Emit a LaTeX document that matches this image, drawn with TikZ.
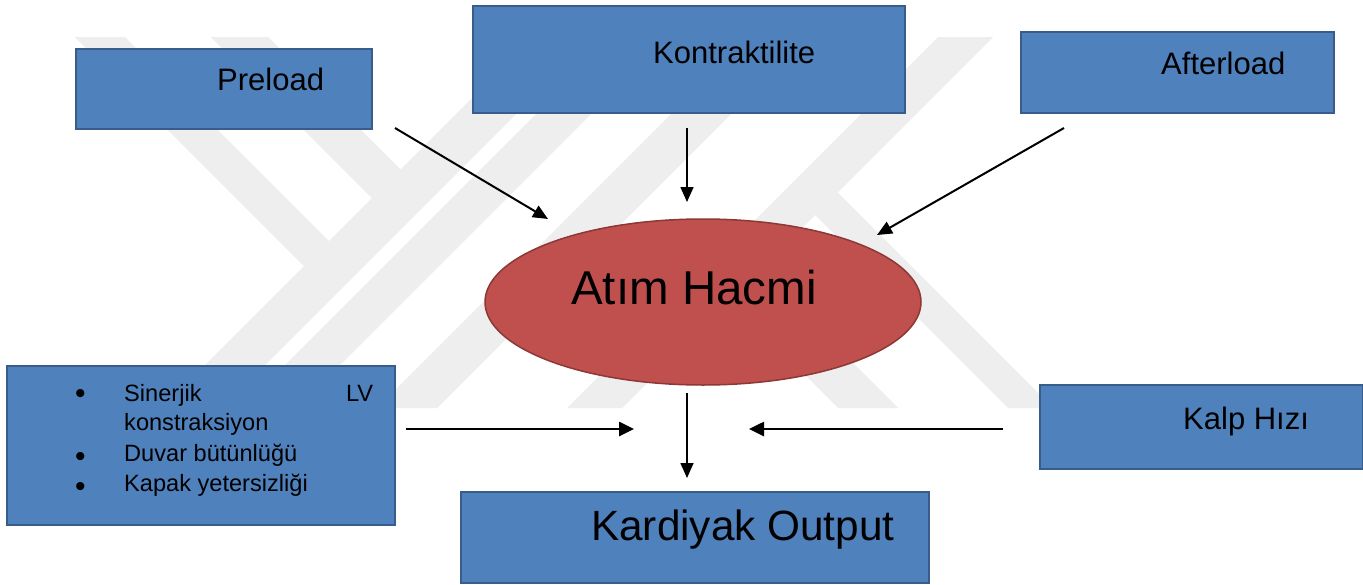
\documentclass[tikz,border=0pt]{standalone}
\usepackage{fontspec}
\setmainfont{Liberation Sans}
\usetikzlibrary{arrows.meta,shapes.geometric}
\definecolor{boxfill}{HTML}{4F81BD}
\definecolor{boxline}{HTML}{385D8A}
\definecolor{ovalfill}{HTML}{C0504D}
\definecolor{ovalline}{HTML}{8C3836}
\definecolor{wmgray}{HTML}{EEEEEE}
\begin{document}
\begin{tikzpicture}[x=1pt,y=-1pt,
  box/.style={draw=boxline,line width=2pt,fill=boxfill,anchor=north west,inner sep=0pt},
  lbl/.style={anchor=base west,inner sep=0pt,font=\fontsize{31}{36}\selectfont},
  blbl/.style={anchor=base west,inner sep=0pt,font=\fontsize{23.6}{28}\selectfont},
  bdot/.style={anchor=base west,inner sep=0pt,font=\fontsize{30}{30}\selectfont},
  arrthin/.style={line width=1.6pt,-{Triangle[length=15pt,width=13pt]}},
  arrmid/.style={line width=2pt,-{Triangle[length=15pt,width=13pt]}},
  arrthick/.style={line width=2.6pt,-{Triangle[length=15pt,width=14pt]}},
  stripe/.style={fill=wmgray}
]
\useasboundingbox (0,0) rectangle (1363,584);
\fill[white] (0,0) rectangle (1363,584);

% background emblem: light grey diagonal bands
\fill[stripe] (75,37) -- (125,37) -- (329,241) -- (304,266) -- cycle;
\fill[stripe] (211,37) -- (268,37) -- (400.5,169.5) -- (372,198) -- cycle;
\fill[stripe] (533,37) -- (593,37) -- (222,408) -- (162,408) -- cycle;
\fill[stripe] (613,37) -- (668,37) -- (297,408) -- (242,408) -- cycle;
\fill[stripe] (748,37) -- (808,37) -- (437,408) -- (377,408) -- cycle;
\fill[stripe] (938,37) -- (993,37) -- (622,408) -- (567,408) -- cycle;
\fill[stripe] (815,215) -- (837.5,192.5) -- (1053,408) -- (1008,408) -- cycle;
\fill[stripe] (730,300) -- (760,270) -- (898,408) -- (838,408) -- cycle;

% boxes
\node[box,minimum width=296pt,minimum height=80pt] (pre) at (75,48) {};
\node[box,minimum width=432pt,minimum height=107pt] (kon) at (472,5) {};
\node[box,minimum width=313pt,minimum height=81pt] (aft) at (1020,31) {};
\node[box,minimum width=388pt,minimum height=159pt] (lv) at (6,365) {};
\node[box,minimum width=323pt,minimum height=84pt] (hr) at (1039,384) {};
\node[box,minimum width=468pt,minimum height=91pt] (co) at (460,491) {};

% central oval
\node[ellipse,draw=ovalline,line width=1.5pt,fill=ovalfill,
      minimum width=436pt,minimum height=166pt,inner sep=0pt] (sv) at (703,302) {};

% labels
\node[lbl] (preT) at (217,90) {Preload};
\node[lbl] (konT) at (653,63) {Kontraktilite};
\node[lbl] (aftT) at (1161,74) {Afterload};
\node[lbl] (hrT) at (1183,429) {Kalp Hızı};
\node[anchor=base west,inner sep=0pt,font=\fontsize{47.5}{56}\selectfont] (svT) at (571,304) {Atım Hacmi};
\node[anchor=base west,inner sep=0pt,font=\fontsize{42.3}{50}\selectfont] (coT) at (591,540) {Kardiyak Output};

% bullet list
\node[bdot] (d1) at (75,403.2) {•};
\node[bdot] (d2) at (75,466.2) {•};
\node[bdot] (d3) at (75,496.2) {•};
\node[blbl] (l1) at (124,401.7) {\makebox[249pt][l]{Sinerjik\hfill LV}};
\node[blbl] (l2) at (124,430) {konstraksiyon};
\node[blbl] (l3) at (124,461.7) {Duvar bütünlüğü};
\node[blbl] (l4) at (124,491.7) {Kapak yetersizliği};

% connector end points
\coordinate (preA) at (395,128);
\coordinate (preB) at (548,219);
\coordinate (konA) at (687,128);
\coordinate (konB) at (687,202);
\coordinate (aftA) at (1064,128);
\coordinate (aftB) at (877,235);
\coordinate (svA) at (687,393);
\coordinate (svB) at (687,478);
\coordinate (lvA) at (406,429);
\coordinate (lvB) at (634,429);
\coordinate (hrA) at (1003,429);
\coordinate (hrB) at (749,429);

\draw[arrmid] (preA) -- (preB);
\draw[arrthin] (konA) -- (konB);
\draw[arrmid] (aftA) -- (aftB);
\draw[arrthin] (svA) -- (svB);
\draw[arrthick] (lvA) -- (lvB);
\draw[arrthick] (hrA) -- (hrB);
\end{tikzpicture}
\end{document}
